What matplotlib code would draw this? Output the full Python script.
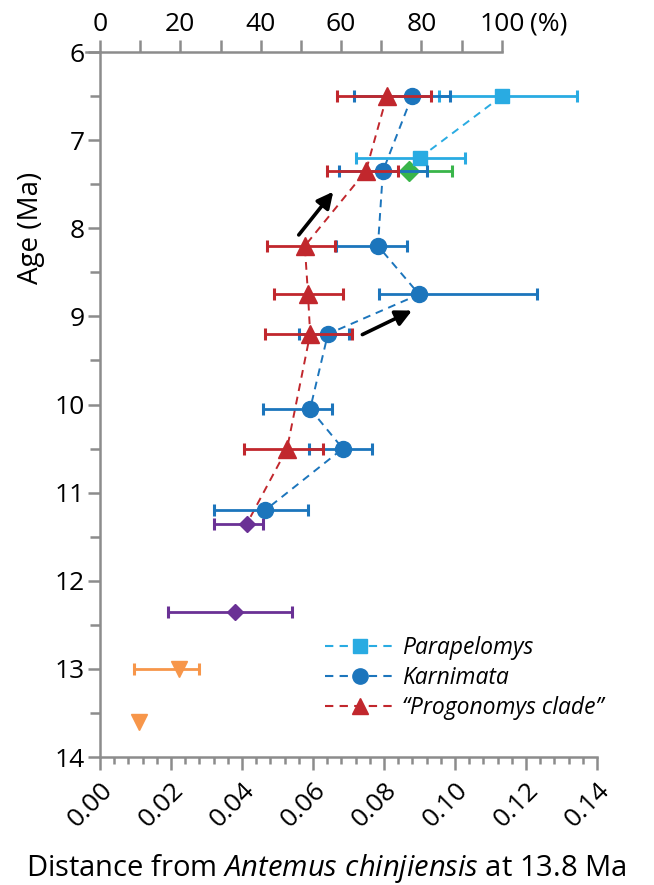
import numpy as np
import matplotlib.pyplot as plt
from matplotlib.lines import Line2D

plt.rcParams['font.family'] = ['Open Sans', 'DejaVu Sans']
plt.rcParams['mathtext.fontset'] = 'custom'
plt.rcParams['mathtext.rm'] = 'Open Sans'
plt.rcParams['mathtext.it'] = 'Open Sans:italic'

# Parapelomys
para_age = [6.5, 7.2]
para_dist = [0.1132, 0.0901]
para_lo = [0.0955, 0.0721]
para_hi = [0.1344, 0.1028]

# Karnimata
karn_age = [6.5, 7.35, 8.2, 8.75, 9.2, 10.05, 10.5, 11.2]
karn_dist = [0.0879, 0.0797, 0.0783, 0.0899, 0.0642, 0.0592, 0.0684, 0.0465]
karn_lo = [0.0715, 0.0673, 0.0665, 0.0786, 0.0561, 0.0460, 0.0589, 0.0321]
karn_hi = [0.0986, 0.0921, 0.0865, 0.1232, 0.0701, 0.0654, 0.0766, 0.0586]

# "Progonomys clade"
prog_age = [6.5, 7.35, 8.2, 8.75, 9.2, 10.5]
prog_dist = [0.0808, 0.0749, 0.0577, 0.0586, 0.0592, 0.0527]
prog_lo = [0.0668, 0.0639, 0.0470, 0.0490, 0.0465, 0.0406]
prog_hi = [0.0932, 0.0839, 0.0662, 0.0685, 0.0710, 0.0628]

# other taxa
green_age = [7.35]
green_dist = [0.0870]
green_lo = [0.0749]
green_hi = [0.0992]

purple_age = [11.35, 12.35]
purple_dist = [0.0414, 0.0380]
purple_lo = [0.0321, 0.0192]
purple_hi = [0.0459, 0.0541]

orange_age = [13.0, 13.6]
orange_dist = [0.0223, 0.0110]
orange_lo = [0.0097, np.nan]
orange_hi = [0.0280, np.nan]

# 100 % on the top axis = largest distance
full_dist = para_dist[0]

c_para = '#29ABE2'
c_karn = '#1C75BC'
c_prog = '#C1272D'
c_green = '#39B54A'
c_purple = '#6A3195'
c_orange = '#F7964A'
grey = '#8C8C8C'

fig = plt.figure(figsize=(6.54, 8.85), dpi=100)
ax = fig.add_axes([0.1529, 0.1446, 0.7599, 0.7966])


def err(d, lo, hi):
    d, lo, hi = np.array(d), np.array(lo), np.array(hi)
    return [d - lo, hi - d]


# dashed connecting lines
ax.plot(para_dist, para_age, '--', color=c_para, lw=1.4, dashes=(4, 3), zorder=2)
ax.plot(karn_dist, karn_age, '--', color=c_karn, lw=1.4, dashes=(4, 3), zorder=2)
ax.plot(prog_dist + purple_dist[:1], prog_age + purple_age[:1], '--', color=c_prog,
        lw=1.4, dashes=(4, 3), zorder=2)

eb = dict(capsize=4.5, capthick=2.2, elinewidth=2.0, ls='none')
ax.errorbar(green_dist, green_age, xerr=err(green_dist, green_lo, green_hi),
            color=c_green, marker='D', ms=10, zorder=3, **eb)
ax.errorbar(para_dist, para_age, xerr=err(para_dist, para_lo, para_hi),
            color=c_para, marker='s', ms=10, zorder=3, **eb)
ax.errorbar(karn_dist, karn_age, xerr=err(karn_dist, karn_lo, karn_hi),
            color=c_karn, marker='o', ms=11.5, zorder=4, **eb)
ax.errorbar(prog_dist, prog_age, xerr=err(prog_dist, prog_lo, prog_hi),
            color=c_prog, marker='^', ms=13, zorder=5, **eb)
ax.errorbar(purple_dist, purple_age, xerr=err(purple_dist, purple_lo, purple_hi),
            color=c_purple, marker='D', ms=8.5, zorder=3, **eb)
ax.errorbar(orange_dist, orange_age, xerr=err(orange_dist, orange_lo, orange_hi),
            color=c_orange, marker='v', ms=12, zorder=3, **eb)

# arrows
arrow = dict(arrowstyle='-|>', color='black', lw=2.6, mutation_scale=24)
ax.annotate('', xy=(0.0662, 7.56), xytext=(0.0555, 8.10), arrowprops=arrow)
ax.annotate('', xy=(0.0886, 8.92), xytext=(0.0732, 9.22), arrowprops=arrow)

# main axes
ax.set_xlim(0, 0.14)
ax.set_ylim(14, 6)
ax.set_xticks(np.arange(0, 0.141, 0.02))
ax.set_xticklabels(['%.2f' % v for v in np.arange(0, 0.141, 0.02)],
                   rotation=45, ha='right', rotation_mode='anchor')
ax.set_xticks(np.arange(0, 0.1401, 0.004), minor=True)
ax.set_yticks(np.arange(6, 15, 1))
ax.set_yticks(np.arange(6.5, 14, 1), minor=True)
for s in ['top', 'right']:
    ax.spines[s].set_visible(False)
for s in ['left', 'bottom']:
    ax.spines[s].set_color(grey)
    ax.spines[s].set_linewidth(1.8)
ax.tick_params(axis='both', which='both', direction='out', color=grey, width=1.8,
               labelsize=19)
ax.tick_params(axis='x', which='major', length=9, pad=6)
ax.tick_params(axis='x', which='minor', length=5)
ax.tick_params(axis='y', which='major', length=9, pad=2)
ax.tick_params(axis='y', which='minor', length=7)
ax.set_ylabel('Age (Ma)', fontsize=20)
ax.yaxis.set_label_coords(-0.11, 0.75)
ax.set_xlabel(r'Distance from $\it{Antemus\ chinjiensis}$ at 13.8 Ma', fontsize=21)
ax.xaxis.set_label_coords(0.455, -0.135)

# top percentage axis
pct = np.arange(0, 101, 10)
ax2 = ax.twiny()
ax2.set_xlim(ax.get_xlim())
ax2.set_xticks(pct / 100 * full_dist)
ax2.set_xticklabels([str(p) if p % 20 == 0 else '' for p in pct])
for s in ['bottom', 'left', 'right']:
    ax2.spines[s].set_visible(False)
ax2.spines['top'].set_color(grey)
ax2.spines['top'].set_linewidth(1.8)
ax2.spines['top'].set_bounds(-0.004, full_dist)
ax2.tick_params(axis='x', direction='out', color=grey, width=1.8, length=9,
                labelsize=19, pad=2)

# "(%)" next to the 100 label
fig.canvas.draw()
bb = ax2.get_xticklabels()[-1].get_window_extent()
fig.text(bb.x1 / fig.bbox.width + 0.009, bb.y0 / fig.bbox.height, '(%)', fontsize=19,
         ha='left', va='bottom')

# legend
handles = [
    Line2D([], [], color=c_para, ls='--', dashes=(4, 3), lw=1.5, marker='s', ms=9.5),
    Line2D([], [], color=c_karn, ls='--', dashes=(4, 3), lw=1.5, marker='o', ms=11),
    Line2D([], [], color=c_prog, ls='--', dashes=(4, 3), lw=1.5, marker='^', ms=12),
]
labels = ['Parapelomys', 'Karnimata', '\u201cProgonomys clade\u201d']
ax.legend(handles, labels, loc='lower right', bbox_to_anchor=(1.045, 0.03),
          frameon=False, prop=dict(size=16.5, style='italic'), handlelength=3.0,
          handletextpad=0.35, labelspacing=0.25, numpoints=1, borderpad=0.2)

fig.savefig('out.png', dpi=100)
